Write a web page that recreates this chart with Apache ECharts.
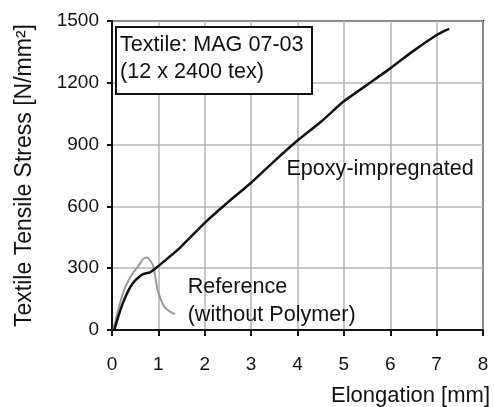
<!DOCTYPE html>
<html>
<head>
<meta charset="utf-8">
<script src="https://cdn.jsdelivr.net/npm/echarts@6/dist/echarts.min.js"></script>
<style>
html,body{margin:0;padding:0;background:#fff;}
#c{width:494px;height:407px;}
</style>
</head>
<body>
<div id="c"></div>
<script>
// Epoxy-impregnated curve: [elongation mm, stress N/mm²]
const epoxyX = [0.05, 0.14, 0.24, 0.35, 0.46, 0.57, 0.67, 0.82, 0.96, 1.18, 1.47, 2.0, 2.5, 3.0, 3.5, 4.0, 4.5, 5.0, 5.5, 6.0, 6.5, 7.0, 7.15, 7.27];
const epoxyY = [0, 69, 134, 190, 231, 255, 271, 280, 303, 344, 400, 520, 620, 715, 820, 920, 1010, 1110, 1190, 1270, 1355, 1432, 1450, 1462];
// Reference (without polymer) curve
const refX = [0.03, 0.14, 0.24, 0.35, 0.46, 0.57, 0.67, 0.76, 0.83, 0.89, 0.93, 0.98, 1.05, 1.14, 1.25, 1.36];
const refY = [5, 102, 182, 239, 279, 311, 344, 352, 335, 311, 263, 198, 150, 110, 89, 77];
// Axis ticks
const xTicks = [0, 1, 2, 3, 4, 5, 6, 7, 8];
const yTicks = [0, 300, 600, 900, 1200, 1500];
// Annotations
const annoNames = ['Epoxy-impregnated', 'Reference\n(without Polymer)'];
const annoX = [3.75, 1.62];
const annoY = [779, 140];

const FONT = '"Liberation Sans", Arial, sans-serif';
const TXT = '#111111';
const chart = echarts.init(document.getElementById('c'));
chart.setOption({
  animation: false,
  backgroundColor: '#ffffff',
  title: {
    text: 'Textile: MAG 07-03\n(12 x 2400 tex)',
    left: 116, top: 27,
    padding: [5, 9, 8, 4],
    borderColor: '#111', borderWidth: 2,
    backgroundColor: '#fff',
    textStyle: { fontFamily: FONT, fontSize: 21.6, fontWeight: 'normal', color: TXT, lineHeight: 27 }
  },
  grid: { left: 112, right: 11, top: 21, bottom: 76, show: true, borderColor: '#111', borderWidth: 2 },
  xAxis: {
    type: 'value', min: xTicks[0], max: xTicks[xTicks.length - 1], interval: 1,
    name: 'Elongation [mm]', nameLocation: 'end', nameGap: 7,
    nameTextStyle: { fontFamily: FONT, fontSize: 22, color: TXT, align: 'right', verticalAlign: 'top', padding: [55, 0, 0, 0] },
    axisLine: { lineStyle: { color: '#111', width: 2 } },
    axisTick: { show: true, length: 6, lineStyle: { color: '#111', width: 2 } },
    axisLabel: { fontFamily: FONT, fontSize: 19, color: TXT, margin: 25 },
    splitLine: { show: true, lineStyle: { color: '#b5b5b5', width: 1.5 } }
  },
  yAxis: {
    type: 'value', min: yTicks[0], max: yTicks[yTicks.length - 1], interval: 300,
    name: 'Textile Tensile Stress [N/mm²]', nameLocation: 'middle', nameGap: 76, nameRotate: 90,
    nameTextStyle: { fontFamily: FONT, fontSize: 23, color: TXT },
    axisLine: { show: true, lineStyle: { color: '#111', width: 2 } },
    axisTick: { show: true, length: 5, lineStyle: { color: '#111', width: 2 } },
    axisLabel: { fontFamily: FONT, fontSize: 19, color: TXT, margin: 13, formatter: v => String(v) },
    splitLine: { show: true, lineStyle: { color: '#b5b5b5', width: 1.5 } }
  },
  series: [
    {
      type: 'line', name: 'Reference', showSymbol: false, symbol: 'none', smooth: 0.3,
      lineStyle: { color: '#9a9a9a', width: 2 },
      data: refX.map((x, i) => [x, refY[i]]), z: 3
    },
    {
      type: 'line', name: 'Epoxy', showSymbol: false, symbol: 'none', smooth: 0.2,
      lineStyle: { color: '#111', width: 2.5 },
      data: epoxyX.map((x, i) => [x, epoxyY[i]]), z: 4
    },
    {
      type: 'scatter', symbol: 'circle', symbolSize: 1, silent: true,
      itemStyle: { color: 'rgba(0,0,0,0)' },
      label: { show: true, position: 'right', distance: 0, formatter: p => p.name, fontFamily: FONT, fontSize: 21.6, color: TXT, opacity: 1, lineHeight: 28 },
      data: annoNames.map((n, i) => ({ name: n, value: [annoX[i], annoY[i]] }))
    }
  ]
});
</script>
</body>
</html>
